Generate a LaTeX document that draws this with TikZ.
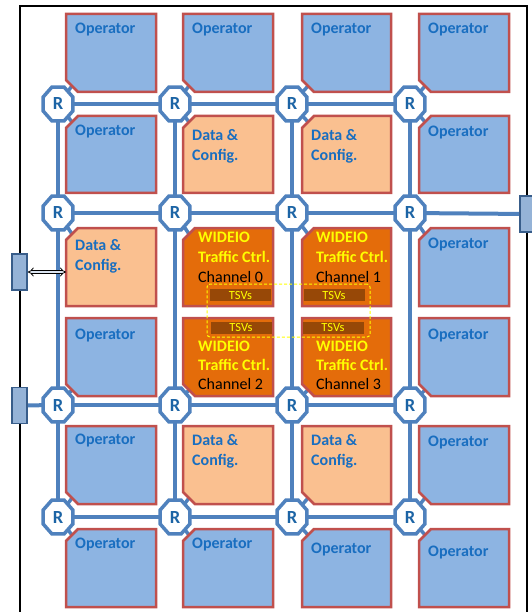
\documentclass[tikz,border=0pt]{standalone}
\usepackage{fontspec}
\setmainfont{Carlito}
\usetikzlibrary{shapes.geometric,arrows.meta}

\definecolor{linkblue}{RGB}{79,129,189}
\definecolor{rtext}{RGB}{28,100,165}
\definecolor{optext}{RGB}{25,110,192}
\definecolor{opfill}{RGB}{141,180,226}
\definecolor{tileedge}{RGB}{192,80,77}
\definecolor{dcfill}{RGB}{250,192,144}
\definecolor{wfill}{RGB}{228,108,10}
\definecolor{tsvfill}{RGB}{151,72,7}
\definecolor{portfill}{RGB}{149,179,215}
\definecolor{portedge}{RGB}{56,93,138}
\definecolor{wyellow}{RGB}{255,255,0}

\pgfdeclarelayer{background}
\pgfsetlayers{background,main}

% tile with the top-left corner cut off: name, x1, y1, x2, y2, style
\newcommand\tileNW[6]{%
  \draw[#6] (#2,#3+12) -- (#2+12,#3) -- (#4,#3) -- (#4,#5) -- (#2,#5) -- cycle;
  \coordinate (#1c) at (#2+6,#3+6);
  \coordinate (#1w) at (#2,{(#3+#5)/2});}
% tile with the bottom-left corner cut off
\newcommand\tileSW[6]{%
  \draw[#6] (#2,#3) -- (#4,#3) -- (#4,#5) -- (#2+12,#5) -- (#2,#5-12) -- cycle;
  \coordinate (#1c) at (#2+6,#5-6);
  \coordinate (#1w) at (#2,{(#3+#5)/2});}

\tikzset{
  link/.style={draw=linkblue, line width=4pt},
  stub/.style={draw=linkblue, line width=3.5pt},
  routerbox/.style={regular polygon, regular polygon sides=8, minimum size=36.5pt,
    inner sep=0pt, draw=linkblue, line width=3.5pt, fill=white, xscale=0.88},
  rlab/.style={text=rtext, font=\fontsize{18.5}{20}\selectfont\bfseries, inner sep=0pt},
  tilebase/.style={draw=tileedge, line width=2.5pt, line join=miter},
  optile/.style={tilebase, fill=opfill},
  dctile/.style={tilebase, fill=dcfill},
  wtile/.style={tilebase, fill=wfill},
  lbl/.style={anchor=base west, inner sep=0pt, font=\fontsize{16}{19}\selectfont\bfseries},
  optxt/.style={lbl, text=optext},
  wtxt/.style={lbl, text=wyellow},
  chtxt/.style={lbl, text=black, font=\fontsize{16}{19}\selectfont},
  tsvbox/.style={fill=tsvfill, minimum width=61pt, minimum height=12pt, inner sep=0pt,
    text=wyellow, font=\fontsize{12.5}{12}\selectfont},
  tsvzone/.style={draw=wyellow, line width=1pt, dash pattern=on 3pt off 2pt,
    rounded corners=3pt, minimum width=163pt, minimum height=53pt, inner sep=0pt},
  portbox/.style={draw=portedge, line width=1.5pt, fill=portfill,
    minimum width=15pt, minimum height=36pt, inner sep=0pt},
  frameline/.style={draw=black, line width=1.3pt},
  biarrow/.style={draw=black, line width=0.8pt, double=portfill!35, double distance=2.2pt,
    {Implies}-{Implies}},
}

\begin{document}
\begin{tikzpicture}[x=1pt,y=-1pt]
\useasboundingbox (0,0) rectangle (531,612);

% router positions: p<row><column>
\foreach \r/\y in {1/104,2/213,3/405,4/517}
  \foreach \k/\x in {1/58,2/175,3/292,4/410}
    \coordinate (p\r\k) at (\x,\y);

% boundary port centres
\coordinate (portEc) at (527.5,214);
\coordinate (portW1c) at (19.5,272);
\coordinate (portW2c) at (19.5,405.5);

% tiles: t<row><column>
\tileSW{t1a}{66}{14}{156}{92}{optile}
\tileSW{t1b}{183}{14}{273}{92}{optile}
\tileSW{t1c}{302}{14}{391}{92}{optile}
\tileSW{t1d}{419}{14}{509}{92}{optile}

\tileNW{t2a}{66}{116}{156}{193}{optile}
\tileNW{t2b}{183}{116}{273}{193}{dctile}
\tileNW{t2c}{302}{116}{391}{193}{dctile}
\tileNW{t2d}{419}{116}{509}{193}{optile}

\tileNW{t3a}{66}{228}{156}{306}{dctile}
\tileNW{t3b}{183}{228}{273}{306}{wtile}
\tileNW{t3c}{302}{228}{391}{306}{wtile}
\tileNW{t3d}{419}{228}{509}{306}{optile}

\tileSW{t4a}{66}{318}{156}{396}{optile}
\tileSW{t4b}{183}{318}{273}{396}{wtile}
\tileSW{t4c}{302}{318}{391}{396}{wtile}
\tileSW{t4d}{419}{318}{509}{396}{optile}

\tileSW{t5a}{66}{426}{156}{504}{optile}
\tileSW{t5b}{183}{426}{273}{504}{dctile}
\tileSW{t5c}{302}{426}{391}{504}{dctile}
\tileSW{t5d}{419}{426}{509}{504}{optile}

\tileNW{t6a}{66}{529}{156}{607}{optile}
\tileNW{t6b}{183}{529}{273}{607}{optile}
\tileNW{t6c}{302}{529}{391}{607}{optile}
\tileNW{t6d}{419}{529}{509}{607}{optile}

% frame, mesh links and router-to-tile stubs, beneath everything else
\begin{pgfonlayer}{background}
  \draw[frameline] (20,612) -- (20,6) -- (527,6) -- (527,612);
  \foreach \r in {1,2,3,4} \draw[link] (p\r1) -- (p\r4);
  \foreach \k in {1,2,3,4} \draw[link] (p1\k) -- (p4\k);
  \draw[link] (p24) -- (portEc);
  \draw[link] (portW2c) -- (p31);
  \foreach \c/\k in {a/1,b/2,c/3,d/4}{
    \draw[stub] (p1\k) -- (t1\c c);
    \draw[stub] (p1\k) -- (t2\c c);
    \draw[stub] (p2\k) -- (t3\c c);
    \draw[stub] (p3\k) -- (t4\c c);
    \draw[stub] (p4\k) -- (t5\c c);
    \draw[stub] (p4\k) -- (t6\c c);
  }
\end{pgfonlayer}

% tile labels
\node[optxt] (l1a) at (75,34) {Operator};
\node[optxt] (l1b) at (192,34) {Operator};
\node[optxt] (l1c) at (311,34) {Operator};
\node[optxt] (l1d) at (428,34) {Operator};

\node[optxt] (l2a) at (75,136) {Operator};
\node[optxt] (l2b1) at (192,141) {Data \&};
\node[optxt] (l2b2) at (192,161) {Config.};
\node[optxt] (l2c1) at (311,141) {Data \&};
\node[optxt] (l2c2) at (311,161) {Config.};
\node[optxt] (l2d) at (428,137) {Operator};

\node[optxt] (l3a1) at (75,250) {Data \&};
\node[optxt] (l3a2) at (75,270) {Config.};
\node[wtxt] (l3b1) at (198,242) {WIDEIO};
\node[wtxt] (l3b2) at (198,262) {Traffic Ctrl.};
\node[chtxt] (l3b3) at (198,282) {Channel 0};
\node[wtxt] (l3c1) at (316,242) {WIDEIO};
\node[wtxt] (l3c2) at (316,262) {Traffic Ctrl.};
\node[chtxt] (l3c3) at (316,282) {Channel 1};
\node[optxt] (l3d) at (428,248) {Operator};

\node[optxt] (l4a) at (75,339) {Operator};
\node[wtxt] (l4b1) at (198,351) {WIDEIO};
\node[wtxt] (l4b2) at (198,370) {Traffic Ctrl.};
\node[chtxt] (l4b3) at (198,389) {Channel 2};
\node[wtxt] (l4c1) at (316,351) {WIDEIO};
\node[wtxt] (l4c2) at (316,370) {Traffic Ctrl.};
\node[chtxt] (l4c3) at (316,389) {Channel 3};
\node[optxt] (l4d) at (428,339) {Operator};

\node[optxt] (l5a) at (75,444) {Operator};
\node[optxt] (l5b1) at (192,445) {Data \&};
\node[optxt] (l5b2) at (192,465) {Config.};
\node[optxt] (l5c1) at (311,445) {Data \&};
\node[optxt] (l5c2) at (311,465) {Config.};
\node[optxt] (l5d) at (428,446) {Operator};

\node[optxt] (l6a) at (75,548) {Operator};
\node[optxt] (l6b) at (192,548) {Operator};
\node[optxt] (l6c) at (311,553) {Operator};
\node[optxt] (l6d) at (428,556) {Operator};

% through-silicon via blocks
\node[tsvbox] (tsv0) at (240.5,295) {TSVs};
\node[tsvbox] (tsv1) at (334,295) {TSVs};
\node[tsvbox] (tsv2) at (241,327.5) {TSVs};
\node[tsvbox] (tsv3) at (333,327.5) {TSVs};
\node[tsvzone] (tsvarea) at (288.5,310.5) {};

% boundary ports
\node[portbox] (portW1) at (portW1c) {};
\node[portbox] (portW2) at (portW2c) {};
\node[portbox] (portE) at (portEc) {};

% external access to the data/config tile
\draw[biarrow] (portW1.east) -- (t3aw |- portW1.east);

% routers
\foreach \r in {1,2,3,4}
  \foreach \k in {1,2,3,4}{
    \node[routerbox] (r\r\k) at (p\r\k) {};
    \node[rlab] (rl\r\k) at (p\r\k) {R};
  }
\end{tikzpicture}
\end{document}
